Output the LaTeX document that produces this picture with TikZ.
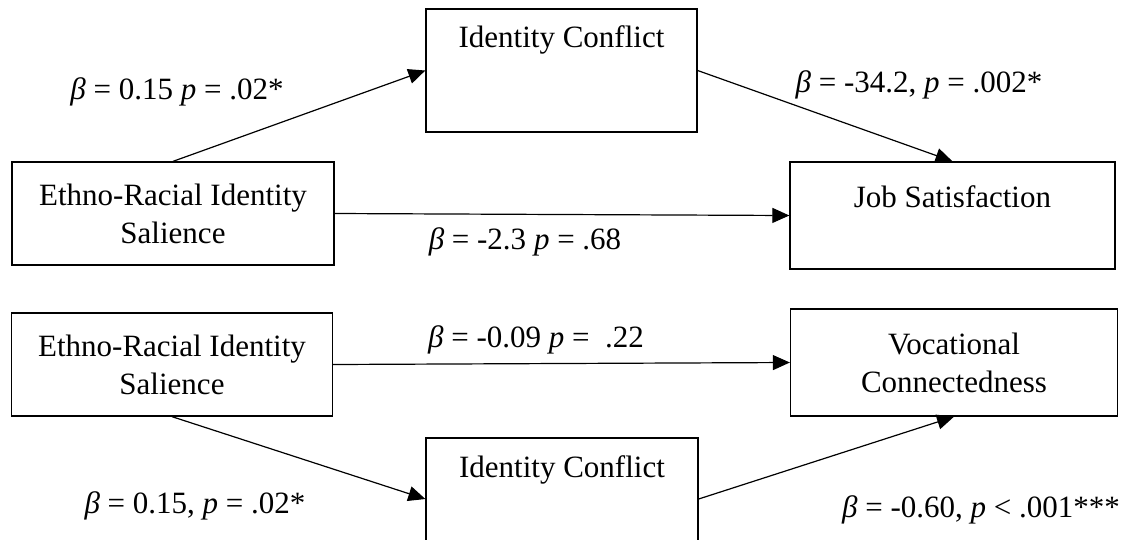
\documentclass[tikz,border=0pt]{standalone}
\usepackage{fontspec}
\setmainfont{Liberation Serif}
\usetikzlibrary{arrows.meta}
\begin{document}
\begin{tikzpicture}[x=1pt,y=-1pt,
  box/.style={draw=black,line width=1.3pt,rectangle,inner sep=0pt,align=center,
    font=\fontsize{31}{38}\selectfont},
  lbl/.style={inner sep=0pt,font=\fontsize{31}{38}\selectfont},
  conn/.style={draw=black,line width=1.2pt,-{Triangle[length=17pt,width=15pt]}}]
\useasboundingbox (0,0) rectangle (1132,539);
\clip (0,0) rectangle (1132,539);
\fill[white] (0,0) rectangle (1132,539);
% top model
\node[box,minimum width=322pt,minimum height=103pt] (eth1) at (173,213.5)
  {Ethno-Racial Identity\\Salience};
\node[box,minimum width=271pt,minimum height=123pt] (ic1) at (561.5,70.5) {};
\node[lbl] (ic1t) at (561.5,40) {Identity Conflict};
\node[box,minimum width=325pt,minimum height=107pt] (js) at (952.5,215.5) {};
\node[lbl] (jst) at (952.5,197) {Job Satisfaction};
\draw[conn] (eth1.north) -- (ic1.west);
\draw[conn] (ic1.east) -- (js.north);
\draw[conn] (eth1.east) -- (js.west);
\node[lbl] (l1) at (177,92) {\itshape β\upshape{} = 0.15 \itshape p\upshape{} = .02*};
\node[lbl] (l2) at (525,242) {\itshape β\upshape{} = -2.3 \itshape p\upshape{} = .68};
\node[lbl] (l3) at (919,85) {\itshape β\upshape{} = -34.2, \itshape p\upshape{} = .002*};
% bottom model
\node[box,minimum width=321pt,minimum height=103pt] (eth2) at (172,364.5)
  {Ethno-Racial Identity\\Salience};
\node[box,minimum width=272pt,minimum height=122pt] (ic2) at (562,499) {};
\node[lbl] (ic2t) at (562,470) {Identity Conflict};
\node[box,minimum width=327pt,minimum height=107pt] (vc) at (954,362.5)
  {Vocational\\Connectedness};
\draw[conn] (eth2.east) -- (vc.west);
\draw[conn] (eth2.south) -- (ic2.west);
\draw[conn] (ic2.east) -- (vc.south);
\node[lbl] (l4) at (536,340) {\itshape β\upshape{} = -0.09 \itshape p\upshape{} = \ .22};
\node[lbl] (l5) at (195,506) {\itshape β\upshape{} = 0.15, \itshape p\upshape{} = .02*};
\node[lbl] (l6) at (981,510) {\itshape β\upshape{} = -0.60, \itshape p\upshape{} < .001***};
\end{tikzpicture}
\end{document}
